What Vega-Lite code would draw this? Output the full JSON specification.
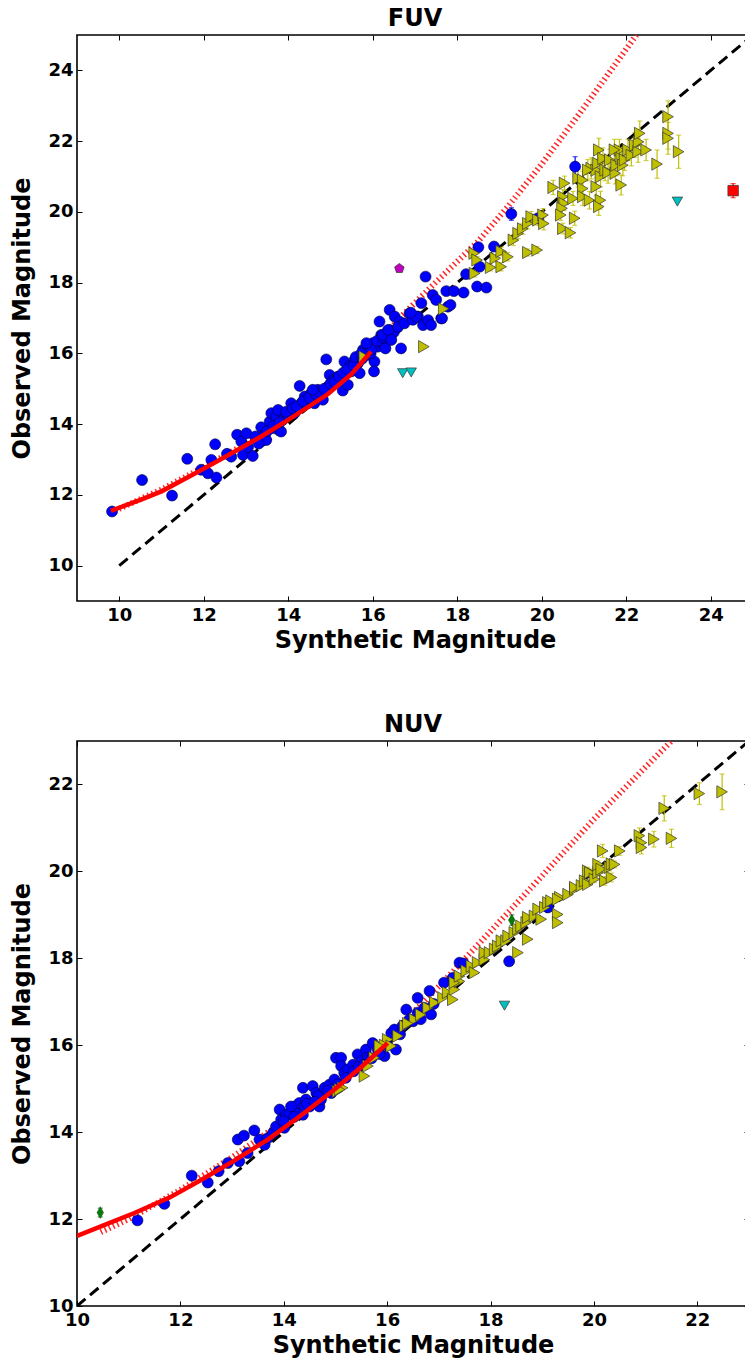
{
"$schema":"https://vega.github.io/schema/vega-lite/v6.json",
"padding":{"left":10,"top":5,"right":0,"bottom":0},
"background":"white",
"spacing":58,
"config":{
 "view":{"stroke":"#000","strokeWidth":1.6},
 "axis":{"labelFont":"DejaVu Sans","labelFontSize":18,"labelFontWeight":"bold","labelColor":"#000","titleFont":"DejaVu Sans","titleFontSize":24,"titleFontWeight":"bold","titleColor":"#000","tickColor":"#000","tickWidth":1,"domain":false,"grid":false,"labelFlush":false,"labelOverlap":false,"labelBound":false},
 "title":{"font":"DejaVu Sans","fontSize":24,"fontWeight":"bold","color":"#000","anchor":"middle","offset":4}
},
"datasets":{
"lines":[
{"panel":"FUV","line":"ident","o":1,"x":10,"y":10},{"panel":"FUV","line":"ident","o":2,"x":25,"y":25},
{"panel":"FUV","line":"fit","o":1,"x":9.8,"y":11.55},{"panel":"FUV","line":"fit","o":2,"x":10.5,"y":11.86},{"panel":"FUV","line":"fit","o":3,"x":11,"y":12.1},{"panel":"FUV","line":"fit","o":4,"x":11.78,"y":12.6},{"panel":"FUV","line":"fit","o":5,"x":12.5,"y":13.07},{"panel":"FUV","line":"fit","o":6,"x":13.36,"y":13.65},{"panel":"FUV","line":"fit","o":7,"x":14,"y":14.12},{"panel":"FUV","line":"fit","o":8,"x":14.94,"y":14.85},{"panel":"FUV","line":"fit","o":9,"x":15.5,"y":15.42},{"panel":"FUV","line":"fit","o":10,"x":15.96,"y":16.05},
{"panel":"FUV","line":"poly","o":1,"x":9.8,"y":11.5},{"panel":"FUV","line":"poly","o":2,"x":10.5,"y":11.88},{"panel":"FUV","line":"poly","o":3,"x":11,"y":12.15},{"panel":"FUV","line":"poly","o":4,"x":12,"y":12.78},{"panel":"FUV","line":"poly","o":5,"x":13,"y":13.45},{"panel":"FUV","line":"poly","o":6,"x":14,"y":14.22},{"panel":"FUV","line":"poly","o":7,"x":15,"y":15.12},{"panel":"FUV","line":"poly","o":8,"x":16,"y":16.12},{"panel":"FUV","line":"poly","o":9,"x":16.68,"y":17.05},{"panel":"FUV","line":"poly","o":10,"x":17.5,"y":18.02},{"panel":"FUV","line":"poly","o":11,"x":18.49,"y":19.16},{"panel":"FUV","line":"poly","o":12,"x":19.2,"y":20.15},{"panel":"FUV","line":"poly","o":13,"x":20,"y":21.35},{"panel":"FUV","line":"poly","o":14,"x":21,"y":22.95},{"panel":"FUV","line":"poly","o":15,"x":22.24,"y":25},
{"panel":"NUV","line":"ident","o":1,"x":10,"y":10},{"panel":"NUV","line":"ident","o":2,"x":23,"y":23},
{"panel":"NUV","line":"fit","o":1,"x":10,"y":11.61},{"panel":"NUV","line":"fit","o":2,"x":10.5,"y":11.85},{"panel":"NUV","line":"fit","o":3,"x":11.11,"y":12.14},{"panel":"NUV","line":"fit","o":4,"x":11.8,"y":12.5},{"panel":"NUV","line":"fit","o":5,"x":12.4,"y":12.9},{"panel":"NUV","line":"fit","o":6,"x":13.05,"y":13.35},{"panel":"NUV","line":"fit","o":7,"x":13.69,"y":13.83},{"panel":"NUV","line":"fit","o":8,"x":14.35,"y":14.4},{"panel":"NUV","line":"fit","o":9,"x":14.98,"y":14.98},{"panel":"NUV","line":"fit","o":10,"x":15.5,"y":15.5},{"panel":"NUV","line":"fit","o":11,"x":16.01,"y":16.05},
{"panel":"NUV","line":"poly","o":1,"x":10.46,"y":11.7},{"panel":"NUV","line":"poly","o":2,"x":11,"y":12.0},{"panel":"NUV","line":"poly","o":3,"x":12,"y":12.67},{"panel":"NUV","line":"poly","o":4,"x":13,"y":13.42},{"panel":"NUV","line":"poly","o":5,"x":14,"y":14.25},{"panel":"NUV","line":"poly","o":6,"x":15,"y":15.15},{"panel":"NUV","line":"poly","o":7,"x":16,"y":16.15},{"panel":"NUV","line":"poly","o":8,"x":17,"y":17.35},{"panel":"NUV","line":"poly","o":9,"x":18,"y":18.62},{"panel":"NUV","line":"poly","o":10,"x":19,"y":19.9},{"panel":"NUV","line":"poly","o":11,"x":20,"y":21.2},{"panel":"NUV","line":"poly","o":12,"x":21,"y":22.4},{"panel":"NUV","line":"poly","o":13,"x":21.5,"y":23.0}
],
"pts":[
{"panel":"FUV","type":"blue","x":9.83,"y":11.53},{"panel":"FUV","type":"blue","x":10.54,"y":12.42},{"panel":"FUV","type":"blue","x":11.25,"y":11.98},{"panel":"FUV","type":"blue","x":11.61,"y":13.02},{"panel":"FUV","type":"blue","x":11.94,"y":12.71},{"panel":"FUV","type":"blue","x":12.1,"y":12.61},{"panel":"FUV","type":"blue","x":12.18,"y":12.99},{"panel":"FUV","type":"blue","x":12.27,"y":13.43},{"panel":"FUV","type":"blue","x":12.3,"y":12.49},{"panel":"FUV","type":"blue","x":12.55,"y":13.16},{"panel":"FUV","type":"blue","x":12.65,"y":13.08},{"panel":"FUV","type":"blue","x":12.79,"y":13.7},{"panel":"FUV","type":"blue","x":12.89,"y":13.51},{"panel":"FUV","type":"blue","x":12.93,"y":13.13},{"panel":"FUV","type":"blue","x":13.01,"y":13.74},{"panel":"FUV","type":"blue","x":13.16,"y":13.1},{"panel":"FUV","type":"blue","x":13.22,"y":13.65},{"panel":"FUV","type":"blue","x":13.36,"y":13.91},{"panel":"FUV","type":"blue","x":13.44,"y":13.7},{"panel":"FUV","type":"blue","x":13.48,"y":13.55},{"panel":"FUV","type":"blue","x":13.56,"y":14.07},{"panel":"FUV","type":"blue","x":13.6,"y":14.31},{"panel":"FUV","type":"blue","x":13.68,"y":13.88},{"panel":"FUV","type":"blue","x":13.72,"y":14.21},{"panel":"FUV","type":"blue","x":13.76,"y":14.4},{"panel":"FUV","type":"blue","x":13.83,"y":13.79},{"panel":"FUV","type":"blue","x":13.87,"y":14.12},{"panel":"FUV","type":"blue","x":13.99,"y":14.26},{"panel":"FUV","type":"blue","x":14.07,"y":14.59},{"panel":"FUV","type":"blue","x":14.15,"y":14.31},{"panel":"FUV","type":"blue","x":14.27,"y":15.08},{"panel":"FUV","type":"blue","x":14.31,"y":14.59},{"panel":"FUV","type":"blue","x":14.39,"y":14.78},{"panel":"FUV","type":"blue","x":14.46,"y":14.59},{"panel":"FUV","type":"blue","x":14.54,"y":14.87},{"panel":"FUV","type":"blue","x":14.62,"y":14.59},{"panel":"FUV","type":"blue","x":14.7,"y":14.97},{"panel":"FUV","type":"blue","x":14.82,"y":14.69},{"panel":"FUV","type":"blue","x":14.9,"y":15.83},{"panel":"FUV","type":"blue","x":14.94,"y":15.06},{"panel":"FUV","type":"blue","x":14.98,"y":15.39},{"panel":"FUV","type":"blue","x":15.06,"y":15.25},{"panel":"FUV","type":"blue","x":15.18,"y":15.34},{"panel":"FUV","type":"blue","x":15.29,"y":14.95},{"panel":"FUV","type":"blue","x":15.33,"y":15.77},{"panel":"FUV","type":"blue","x":15.41,"y":15.11},{"panel":"FUV","type":"blue","x":15.45,"y":15.63},{"panel":"FUV","type":"blue","x":15.49,"y":15.49},{"panel":"FUV","type":"blue","x":15.57,"y":15.81},{"panel":"FUV","type":"blue","x":15.65,"y":15.72},{"panel":"FUV","type":"blue","x":15.69,"y":15.44},{"panel":"FUV","type":"blue","x":15.77,"y":16.1},{"panel":"FUV","type":"blue","x":15.89,"y":15.96},{"panel":"FUV","type":"blue","x":15.92,"y":16.19},{"panel":"FUV","type":"blue","x":16.0,"y":16.29},{"panel":"FUV","type":"blue","x":16.04,"y":15.77},{"panel":"FUV","type":"blue","x":16.03,"y":15.49},{"panel":"FUV","type":"blue","x":16.12,"y":16.19},{"panel":"FUV","type":"blue","x":16.16,"y":16.9},{"panel":"FUV","type":"blue","x":16.2,"y":16.52},{"panel":"FUV","type":"blue","x":16.28,"y":16.19},{"panel":"FUV","type":"blue","x":16.4,"y":17.23},{"panel":"FUV","type":"blue","x":16.4,"y":16.66},{"panel":"FUV","type":"blue","x":16.52,"y":17.04},{"panel":"FUV","type":"blue","x":16.63,"y":16.9},{"panel":"FUV","type":"blue","x":16.67,"y":16.14},{"panel":"FUV","type":"blue","x":16.87,"y":17.13},{"panel":"FUV","type":"blue","x":17.07,"y":17.04},{"panel":"FUV","type":"blue","x":17.19,"y":16.8},{"panel":"FUV","type":"blue","x":17.31,"y":16.94},{"panel":"FUV","type":"blue","x":17.38,"y":16.8},{"panel":"FUV","type":"blue","x":17.62,"y":16.99},{"panel":"FUV","type":"blue","x":17.78,"y":17.32},
{"panel":"FUV","type":"blue","x":13.05,"y":13.35},{"panel":"FUV","type":"blue","x":13.3,"y":13.45},{"panel":"FUV","type":"blue","x":13.5,"y":13.8},{"panel":"FUV","type":"blue","x":13.65,"y":13.95},{"panel":"FUV","type":"blue","x":13.8,"y":14.05},{"panel":"FUV","type":"blue","x":13.95,"y":14.35},{"panel":"FUV","type":"blue","x":14.1,"y":14.45},{"panel":"FUV","type":"blue","x":14.2,"y":14.5},{"panel":"FUV","type":"blue","x":14.35,"y":14.65},{"panel":"FUV","type":"blue","x":14.5,"y":14.75},{"panel":"FUV","type":"blue","x":14.65,"y":14.85},{"panel":"FUV","type":"blue","x":14.75,"y":14.9},{"panel":"FUV","type":"blue","x":14.85,"y":15.0},{"panel":"FUV","type":"blue","x":15.0,"y":15.15},{"panel":"FUV","type":"blue","x":15.1,"y":15.2},{"panel":"FUV","type":"blue","x":15.2,"y":15.35},{"panel":"FUV","type":"blue","x":15.3,"y":15.45},{"panel":"FUV","type":"blue","x":15.4,"y":15.55},{"panel":"FUV","type":"blue","x":15.55,"y":15.65},{"panel":"FUV","type":"blue","x":15.6,"y":15.9},{"panel":"FUV","type":"blue","x":15.75,"y":15.85},{"panel":"FUV","type":"blue","x":15.85,"y":16.05},{"panel":"FUV","type":"blue","x":15.95,"y":16.0},{"panel":"FUV","type":"blue","x":16.1,"y":16.35},{"panel":"FUV","type":"blue","x":16.25,"y":16.45},{"panel":"FUV","type":"blue","x":16.35,"y":16.55},{"panel":"FUV","type":"blue","x":16.5,"y":16.6},{"panel":"FUV","type":"blue","x":16.6,"y":16.75},{"panel":"FUV","type":"blue","x":16.75,"y":16.85},{"panel":"FUV","type":"blue","x":16.95,"y":16.95},
{"panel":"FUV","type":"blue","x":17.25,"y":18.17},{"panel":"FUV","type":"blue","x":17.42,"y":17.65},{"panel":"FUV","type":"blue","x":17.5,"y":17.51},{"panel":"FUV","type":"blue","x":17.74,"y":17.76},{"panel":"FUV","type":"blue","x":17.92,"y":17.76},{"panel":"FUV","type":"blue","x":18.15,"y":17.72},{"panel":"FUV","type":"blue","x":18.21,"y":18.24},{"panel":"FUV","type":"blue","x":18.47,"y":17.89},{"panel":"FUV","type":"blue","x":17.84,"y":17.37},{"panel":"FUV","type":"blue","x":17.64,"y":16.99},{"panel":"FUV","type":"blue","x":17.15,"y":17.42},{"panel":"FUV","type":"blue","x":17.03,"y":17.04},{"panel":"FUV","type":"blue","x":16.9,"y":17.15},{"panel":"FUV","type":"blue","x":16.24,"y":16.52},{"panel":"FUV","type":"blue","x":16.36,"y":16.66},{"panel":"FUV","type":"blue","x":16.3,"y":16.14},{"panel":"FUV","type":"blue","x":16.44,"y":16.38},{"panel":"FUV","type":"blue","x":15.96,"y":16.1},{"panel":"FUV","type":"blue","x":15.85,"y":16.29},{"panel":"FUV","type":"blue","x":15.73,"y":16.0},{"panel":"FUV","type":"blue","x":14.58,"y":14.97},{"panel":"FUV","type":"blue","x":18.5,"y":19.0},{"panel":"FUV","type":"blue","x":18.87,"y":19.02},{"panel":"FUV","type":"blue","x":18.53,"y":18.45},{"panel":"FUV","type":"blue","x":18.69,"y":17.86},{"panel":"FUV","type":"blue","x":19.91,"y":19.82},{"panel":"FUV","type":"blue","x":19.28,"y":19.94,"err":0.18},{"panel":"FUV","type":"blue","x":20.79,"y":21.28,"err":0.28},
{"panel":"FUV","type":"yellow","x":15.8,"y":15.9},{"panel":"FUV","type":"yellow","x":17.21,"y":16.19},{"panel":"FUV","type":"yellow","x":17.68,"y":17.26},
{"panel":"FUV","type":"yellow","x":18.4,"y":18.83,"err":0.1},{"panel":"FUV","type":"yellow","x":18.47,"y":18.64,"err":0.1},{"panel":"FUV","type":"yellow","x":18.41,"y":18.26,"err":0.1},{"panel":"FUV","type":"yellow","x":18.79,"y":18.43,"err":0.1},{"panel":"FUV","type":"yellow","x":18.9,"y":18.69,"err":0.1},{"panel":"FUV","type":"yellow","x":19.04,"y":18.88,"err":0.12},{"panel":"FUV","type":"yellow","x":19.04,"y":18.45,"err":0.12},{"panel":"FUV","type":"yellow","x":19.2,"y":18.73,"err":0.12},{"panel":"FUV","type":"yellow","x":19.33,"y":19.2,"err":0.15},{"panel":"FUV","type":"yellow","x":19.44,"y":19.39,"err":0.15},{"panel":"FUV","type":"yellow","x":19.55,"y":19.52,"err":0.15},{"panel":"FUV","type":"yellow","x":19.67,"y":19.67,"err":0.15},{"panel":"FUV","type":"yellow","x":19.75,"y":19.86,"err":0.15},{"panel":"FUV","type":"yellow","x":19.91,"y":19.77,"err":0.15},{"panel":"FUV","type":"yellow","x":20.03,"y":19.91,"err":0.18},{"panel":"FUV","type":"yellow","x":20.05,"y":19.67,"err":0.18},{"panel":"FUV","type":"yellow","x":19.67,"y":18.85,"err":0.1},{"panel":"FUV","type":"yellow","x":19.89,"y":18.92,"err":0.1},{"panel":"FUV","type":"yellow","x":20.27,"y":20.69,"err":0.2},{"panel":"FUV","type":"yellow","x":20.54,"y":20.81,"err":0.2},{"panel":"FUV","type":"yellow","x":20.5,"y":20.43,"err":0.2},{"panel":"FUV","type":"yellow","x":20.53,"y":20.24,"err":0.2},{"panel":"FUV","type":"yellow","x":20.48,"y":20.1,"err":0.2},{"panel":"FUV","type":"yellow","x":20.45,"y":19.91,"err":0.15},{"panel":"FUV","type":"yellow","x":20.5,"y":19.53,"err":0.15},{"panel":"FUV","type":"yellow","x":20.68,"y":19.41,"err":0.15},{"panel":"FUV","type":"yellow","x":20.78,"y":19.82,"err":0.2},{"panel":"FUV","type":"yellow","x":20.74,"y":20.38,"err":0.2},{"panel":"FUV","type":"yellow","x":20.86,"y":20.95,"err":0.25},{"panel":"FUV","type":"yellow","x":20.97,"y":20.9,"err":0.25},{"panel":"FUV","type":"yellow","x":20.97,"y":20.66,"err":0.25},{"panel":"FUV","type":"yellow","x":20.97,"y":20.43,"err":0.25},{"panel":"FUV","type":"yellow","x":21.13,"y":20.33,"err":0.25},{"panel":"FUV","type":"yellow","x":21.17,"y":21.23,"err":0.3},{"panel":"FUV","type":"yellow","x":21.29,"y":21.18,"err":0.3},{"panel":"FUV","type":"yellow","x":21.35,"y":21.75,"err":0.33},{"panel":"FUV","type":"yellow","x":21.39,"y":20.33,"err":0.25},{"panel":"FUV","type":"yellow","x":21.35,"y":20.15,"err":0.25},{"panel":"FUV","type":"yellow","x":21.33,"y":21.37,"err":0.3},{"panel":"FUV","type":"yellow","x":21.39,"y":20.99,"err":0.28},{"panel":"FUV","type":"yellow","x":21.45,"y":21.51,"err":0.3},{"panel":"FUV","type":"yellow","x":21.5,"y":21.18,"err":0.3},{"panel":"FUV","type":"yellow","x":21.57,"y":21.11,"err":0.3},{"panel":"FUV","type":"yellow","x":21.61,"y":21.47,"err":0.3},{"panel":"FUV","type":"yellow","x":21.74,"y":21.09,"err":0.3},{"panel":"FUV","type":"yellow","x":21.76,"y":21.32,"err":0.3},{"panel":"FUV","type":"yellow","x":21.84,"y":21.75,"err":0.3},{"panel":"FUV","type":"yellow","x":21.88,"y":20.76,"err":0.28},{"panel":"FUV","type":"yellow","x":21.88,"y":21.51,"err":0.3},{"panel":"FUV","type":"yellow","x":21.92,"y":21.32,"err":0.3},{"panel":"FUV","type":"yellow","x":21.96,"y":21.47,"err":0.3},{"panel":"FUV","type":"yellow","x":22.04,"y":21.75,"err":0.3},{"panel":"FUV","type":"yellow","x":22.12,"y":21.6,"err":0.3},{"panel":"FUV","type":"yellow","x":22.2,"y":21.89,"err":0.35},{"panel":"FUV","type":"yellow","x":22.28,"y":21.7,"err":0.3},{"panel":"FUV","type":"yellow","x":22.29,"y":21.98,"err":0.35},{"panel":"FUV","type":"yellow","x":22.32,"y":22.22,"err":0.35},{"panel":"FUV","type":"yellow","x":22.47,"y":21.75,"err":0.3},{"panel":"FUV","type":"yellow","x":22.73,"y":21.35,"err":0.4},{"panel":"FUV","type":"yellow","x":22.99,"y":22.69,"err":0.45},{"panel":"FUV","type":"yellow","x":22.99,"y":22.22,"err":0.45},{"panel":"FUV","type":"yellow","x":22.99,"y":22.08,"err":0.45},{"panel":"FUV","type":"yellow","x":23.24,"y":21.7,"err":0.47},{"panel":"FUV","type":"yellow","x":21.72,"y":21.75,"err":0.3},{"panel":"FUV","type":"yellow","x":21.29,"y":20.71,"err":0.25},{"panel":"FUV","type":"yellow","x":21.09,"y":21.18,"err":0.3},
{"panel":"FUV","type":"cyan","x":16.71,"y":15.44},{"panel":"FUV","type":"cyan","x":16.91,"y":15.46},{"panel":"FUV","type":"cyan","x":23.21,"y":20.29},
{"panel":"FUV","type":"magenta","x":16.63,"y":18.4},
{"panel":"FUV","type":"red","x":24.53,"y":20.6,"err":0.2},
{"panel":"NUV","type":"blue","x":11.17,"y":11.97},{"panel":"NUV","type":"blue","x":11.69,"y":12.35},{"panel":"NUV","type":"blue","x":12.22,"y":13.0},{"panel":"NUV","type":"blue","x":12.53,"y":12.84},{"panel":"NUV","type":"blue","x":12.74,"y":13.1},{"panel":"NUV","type":"blue","x":12.92,"y":13.29},{"panel":"NUV","type":"blue","x":13.11,"y":13.83},{"panel":"NUV","type":"blue","x":13.14,"y":13.33},{"panel":"NUV","type":"blue","x":13.23,"y":13.92},{"panel":"NUV","type":"blue","x":13.3,"y":13.52},{"panel":"NUV","type":"blue","x":13.43,"y":14.04},{"panel":"NUV","type":"blue","x":13.53,"y":13.83},{"panel":"NUV","type":"blue","x":13.63,"y":13.71},{"panel":"NUV","type":"blue","x":13.69,"y":13.86},{"panel":"NUV","type":"blue","x":13.79,"y":13.98},{"panel":"NUV","type":"blue","x":13.85,"y":14.13},{"panel":"NUV","type":"blue","x":13.92,"y":14.52},{"panel":"NUV","type":"blue","x":13.95,"y":14.29},{"panel":"NUV","type":"blue","x":14.01,"y":14.1},{"panel":"NUV","type":"blue","x":14.05,"y":14.4},{"panel":"NUV","type":"blue","x":14.11,"y":14.44},{"panel":"NUV","type":"blue","x":14.21,"y":14.59},{"panel":"NUV","type":"blue","x":14.27,"y":14.44},{"panel":"NUV","type":"blue","x":14.3,"y":14.67},{"panel":"NUV","type":"blue","x":14.37,"y":15.02},{"panel":"NUV","type":"blue","x":14.37,"y":14.4},{"panel":"NUV","type":"blue","x":14.43,"y":14.75},{"panel":"NUV","type":"blue","x":14.5,"y":14.59},{"panel":"NUV","type":"blue","x":14.56,"y":15.06},{"panel":"NUV","type":"blue","x":14.63,"y":14.9},{"panel":"NUV","type":"blue","x":14.69,"y":14.59},{"panel":"NUV","type":"blue","x":14.72,"y":14.75},{"panel":"NUV","type":"blue","x":14.79,"y":15.02},{"panel":"NUV","type":"blue","x":14.88,"y":15.09},{"panel":"NUV","type":"blue","x":14.98,"y":15.21},{"panel":"NUV","type":"blue","x":15.01,"y":15.71},{"panel":"NUV","type":"blue","x":15.11,"y":15.71},{"panel":"NUV","type":"blue","x":15.11,"y":15.52},{"panel":"NUV","type":"blue","x":15.17,"y":15.36},{"panel":"NUV","type":"blue","x":15.24,"y":15.44},{"panel":"NUV","type":"blue","x":15.34,"y":15.55},{"panel":"NUV","type":"blue","x":15.43,"y":15.79},{"panel":"NUV","type":"blue","x":15.5,"y":15.63},{"panel":"NUV","type":"blue","x":15.59,"y":15.9},{"panel":"NUV","type":"blue","x":15.63,"y":15.71},{"panel":"NUV","type":"blue","x":15.72,"y":16.05},{"panel":"NUV","type":"blue","x":15.82,"y":15.9},{"panel":"NUV","type":"blue","x":15.95,"y":15.75},{"panel":"NUV","type":"blue","x":16.08,"y":16.28},{"panel":"NUV","type":"blue","x":16.17,"y":15.9},{"panel":"NUV","type":"blue","x":16.14,"y":16.36},{"panel":"NUV","type":"blue","x":16.37,"y":16.82},{"panel":"NUV","type":"blue","x":16.43,"y":16.59},{"panel":"NUV","type":"blue","x":16.59,"y":16.75},{"panel":"NUV","type":"blue","x":16.59,"y":17.09},{"panel":"NUV","type":"blue","x":16.72,"y":16.86},{"panel":"NUV","type":"blue","x":16.82,"y":17.25},{"panel":"NUV","type":"blue","x":16.85,"y":16.71},{"panel":"NUV","type":"blue","x":17.1,"y":17.44},{"panel":"NUV","type":"blue","x":17.27,"y":17.55},{"panel":"NUV","type":"blue","x":17.4,"y":17.9},{"panel":"NUV","type":"blue","x":17.48,"y":17.88},{"panel":"NUV","type":"blue","x":18.36,"y":17.93},{"panel":"NUV","type":"blue","x":14.66,"y":14.83},{"panel":"NUV","type":"blue","x":14.92,"y":14.9},{"panel":"NUV","type":"blue","x":14.14,"y":14.59},{"panel":"NUV","type":"blue","x":14.4,"y":14.59},{"panel":"NUV","type":"blue","x":19.11,"y":19.17},
{"panel":"NUV","type":"blue","x":14.0,"y":14.25},{"panel":"NUV","type":"blue","x":14.2,"y":14.35},{"panel":"NUV","type":"blue","x":14.45,"y":14.65},{"panel":"NUV","type":"blue","x":14.6,"y":14.7},{"panel":"NUV","type":"blue","x":14.85,"y":14.95},{"panel":"NUV","type":"blue","x":15.05,"y":15.1},{"panel":"NUV","type":"blue","x":15.2,"y":15.25},{"panel":"NUV","type":"blue","x":15.35,"y":15.4},{"panel":"NUV","type":"blue","x":15.45,"y":15.5},{"panel":"NUV","type":"blue","x":15.55,"y":15.55},{"panel":"NUV","type":"blue","x":15.7,"y":15.7},{"panel":"NUV","type":"blue","x":15.85,"y":15.8},{"panel":"NUV","type":"blue","x":16.0,"y":16.0},{"panel":"NUV","type":"blue","x":16.25,"y":16.25},{"panel":"NUV","type":"blue","x":16.3,"y":16.45},{"panel":"NUV","type":"blue","x":16.5,"y":16.55},{"panel":"NUV","type":"blue","x":16.65,"y":16.6},{"panel":"NUV","type":"blue","x":16.9,"y":16.95},
{"panel":"NUV","type":"yellow","x":15.04,"y":14.94},{"panel":"NUV","type":"yellow","x":15.14,"y":15.02},{"panel":"NUV","type":"yellow","x":15.56,"y":15.29},{"panel":"NUV","type":"yellow","x":15.63,"y":15.52},{"panel":"NUV","type":"yellow","x":15.75,"y":15.71},{"panel":"NUV","type":"yellow","x":15.88,"y":15.98},{"panel":"NUV","type":"yellow","x":16.01,"y":16.13},{"panel":"NUV","type":"yellow","x":16.21,"y":16.21},{"panel":"NUV","type":"yellow","x":15.95,"y":16.0},{"panel":"NUV","type":"yellow","x":16.34,"y":16.44},{"panel":"NUV","type":"yellow","x":16.53,"y":16.59},{"panel":"NUV","type":"yellow","x":16.79,"y":16.86},{"panel":"NUV","type":"yellow","x":16.92,"y":16.98},{"panel":"NUV","type":"yellow","x":17.08,"y":17.09},{"panel":"NUV","type":"yellow","x":17.17,"y":17.21},{"panel":"NUV","type":"yellow","x":17.3,"y":17.28},{"panel":"NUV","type":"yellow","x":17.4,"y":17.47},{"panel":"NUV","type":"yellow","x":17.27,"y":17.05},{"panel":"NUV","type":"yellow","x":15.85,"y":15.98},{"panel":"NUV","type":"yellow","x":15.08,"y":14.98},{"panel":"NUV","type":"yellow","x":16.08,"y":15.98},{"panel":"NUV","type":"yellow","x":16.4,"y":16.5},{"panel":"NUV","type":"yellow","x":16.65,"y":16.7},
{"panel":"NUV","type":"yellow","x":17.3,"y":17.44},{"panel":"NUV","type":"yellow","x":17.4,"y":17.59},{"panel":"NUV","type":"yellow","x":17.53,"y":17.71},{"panel":"NUV","type":"yellow","x":17.63,"y":17.82},{"panel":"NUV","type":"yellow","x":17.69,"y":17.67},{"panel":"NUV","type":"yellow","x":17.75,"y":17.9},{"panel":"NUV","type":"yellow","x":17.88,"y":17.97},{"panel":"NUV","type":"yellow","x":17.88,"y":18.13},{"panel":"NUV","type":"yellow","x":17.98,"y":18.13},{"panel":"NUV","type":"yellow","x":18.08,"y":18.21},{"panel":"NUV","type":"yellow","x":18.14,"y":18.28},{"panel":"NUV","type":"yellow","x":18.21,"y":18.4},{"panel":"NUV","type":"yellow","x":18.3,"y":18.4},{"panel":"NUV","type":"yellow","x":18.34,"y":18.51},{"panel":"NUV","type":"yellow","x":18.46,"y":18.59},{"panel":"NUV","type":"yellow","x":18.53,"y":18.67},{"panel":"NUV","type":"yellow","x":18.53,"y":18.13},{"panel":"NUV","type":"yellow","x":18.72,"y":18.44},{"panel":"NUV","type":"yellow","x":18.59,"y":18.74},{"panel":"NUV","type":"yellow","x":18.69,"y":18.82},{"panel":"NUV","type":"yellow","x":18.72,"y":18.94},{"panel":"NUV","type":"yellow","x":18.85,"y":18.97},{"panel":"NUV","type":"yellow","x":18.92,"y":19.13},{"panel":"NUV","type":"yellow","x":18.98,"y":18.9},{"panel":"NUV","type":"yellow","x":19.05,"y":19.17},{"panel":"NUV","type":"yellow","x":19.11,"y":19.28},{"panel":"NUV","type":"yellow","x":19.17,"y":19.32},{"panel":"NUV","type":"yellow","x":19.3,"y":19.01},{"panel":"NUV","type":"yellow","x":19.3,"y":18.82},{"panel":"NUV","type":"yellow","x":19.34,"y":19.4},{"panel":"NUV","type":"yellow","x":19.3,"y":19.36},{"panel":"NUV","type":"yellow","x":19.5,"y":19.47},{"panel":"NUV","type":"yellow","x":19.63,"y":19.59},{"panel":"NUV","type":"yellow","x":19.63,"y":19.63},{"panel":"NUV","type":"yellow","x":19.76,"y":19.67},{"panel":"NUV","type":"yellow","x":19.82,"y":19.78},{"panel":"NUV","type":"yellow","x":19.88,"y":19.7},{"panel":"NUV","type":"yellow","x":19.88,"y":20.01,"err":0.08},{"panel":"NUV","type":"yellow","x":19.92,"y":19.97,"err":0.08},{"panel":"NUV","type":"yellow","x":20.01,"y":19.82,"err":0.08},{"panel":"NUV","type":"yellow","x":20.08,"y":19.97,"err":0.08},{"panel":"NUV","type":"yellow","x":20.08,"y":20.16,"err":0.08},{"panel":"NUV","type":"yellow","x":20.14,"y":20.05,"err":0.08},{"panel":"NUV","type":"yellow","x":20.21,"y":19.78,"err":0.1},{"panel":"NUV","type":"yellow","x":20.3,"y":20.09,"err":0.08},{"panel":"NUV","type":"yellow","x":20.34,"y":19.86,"err":0.1},{"panel":"NUV","type":"yellow","x":20.34,"y":20.17,"err":0.1},{"panel":"NUV","type":"yellow","x":20.4,"y":20.16,"err":0.08},{"panel":"NUV","type":"yellow","x":20.17,"y":20.47,"err":0.15},{"panel":"NUV","type":"yellow","x":20.5,"y":20.47,"err":0.1},{"panel":"NUV","type":"yellow","x":20.88,"y":20.82,"err":0.18},{"panel":"NUV","type":"yellow","x":20.92,"y":20.66,"err":0.18},{"panel":"NUV","type":"yellow","x":20.92,"y":20.55,"err":0.15},{"panel":"NUV","type":"yellow","x":21.16,"y":20.74,"err":0.18},{"panel":"NUV","type":"yellow","x":21.5,"y":20.76,"err":0.21},{"panel":"NUV","type":"yellow","x":21.36,"y":21.45,"err":0.29},{"panel":"NUV","type":"yellow","x":22.04,"y":21.79,"err":0.25},{"panel":"NUV","type":"yellow","x":22.48,"y":21.83,"err":0.41},
{"panel":"NUV","type":"cyan","x":18.27,"y":16.91},
{"panel":"NUV","type":"green","x":10.45,"y":12.15,"err":0.1},{"panel":"NUV","type":"green","x":18.41,"y":18.88,"err":0.12}
]},
"vconcat":[
{
 "width":676,"height":566,
 "title":{"text":"FUV"},
 "resolve":{"axis":{"x":"independent","y":"independent"}},
 "layer":[
  {"data":{"name":"lines"},"transform":[{"filter":"datum.panel=='FUV' && datum.line=='ident'"}],
   "mark":{"type":"line","color":"#000","strokeWidth":3,"strokeDash":[11,6],"clip":true},
   "encoding":{"order":{"field":"o","type":"quantitative"},
    "x":{"field":"x","type":"quantitative","scale":{"domain":[9,25],"nice":false,"zero":false},"axis":{"orient":"bottom","values":[10,12,14,16,18,20,22,24],"title":"Synthetic Magnitude","tickSize":-5,"labelPadding":10,"titlePadding":4}},
    "y":{"field":"y","type":"quantitative","scale":{"domain":[9,25],"nice":false,"zero":false},"axis":{"orient":"left","values":[10,12,14,16,18,20,22,24],"title":"Observed Magnitude","tickSize":-5,"labelPadding":9,"titlePadding":13}}}},
  {"data":{"name":"pts"},"transform":[{"filter":"datum.panel=='FUV' && isValid(datum.err)"}],
   "mark":{"type":"errorbar","ticks":true,"thickness":1.2},
   "encoding":{"x":{"field":"x","type":"quantitative","scale":{"domain":[9,25],"nice":false,"zero":false},"axis":null},
    "y":{"field":"y","type":"quantitative","scale":{"domain":[9,25],"nice":false,"zero":false},"axis":null,"title":null},
    "yError":{"field":"err"},
    "color":{"field":"type","type":"nominal","legend":null,"scale":{"domain":["blue","yellow","cyan","magenta","red","green"],"range":["#0000ff","#bfbf00","#00bfbf","#bf00bf","#ff0000","#008000"]}}}},
  {"data":{"name":"lines"},"transform":[{"filter":"datum.panel=='FUV' && datum.line=='poly'"}],
   "mark":{"type":"line","color":"#ff1a1a","opacity":0.95,"strokeWidth":6,"strokeDash":[1.5,3],"strokeCap":"butt","clip":true},
   "encoding":{"order":{"field":"o","type":"quantitative"},"x":{"field":"x","type":"quantitative","scale":{"domain":[9,25],"nice":false,"zero":false},"axis":null},"y":{"field":"y","type":"quantitative","scale":{"domain":[9,25],"nice":false,"zero":false},"axis":null}}},
  {"data":{"name":"pts"},"transform":[{"filter":"datum.panel=='FUV' && datum.type=='blue'"}],
   "mark":{"type":"point","shape":"circle","filled":true,"fill":"#0000ff","fillOpacity":1,"stroke":"#000033","strokeWidth":0.6,"opacity":1,"size":120},
   "encoding":{"x":{"field":"x","type":"quantitative","scale":{"domain":[9,25],"nice":false,"zero":false},"axis":null},"y":{"field":"y","type":"quantitative","scale":{"domain":[9,25],"nice":false,"zero":false},"axis":null}}},
  {"data":{"name":"pts"},"transform":[{"filter":"datum.panel=='FUV' && datum.type=='yellow'"}],
   "mark":{"type":"point","shape":"triangle-right","filled":true,"fill":"#bfbf00","fillOpacity":1,"stroke":"#333","strokeWidth":0.7,"opacity":1,"size":150},
   "encoding":{"x":{"field":"x","type":"quantitative","scale":{"domain":[9,25],"nice":false,"zero":false},"axis":null},"y":{"field":"y","type":"quantitative","scale":{"domain":[9,25],"nice":false,"zero":false},"axis":null}}},
  {"data":{"name":"pts"},"transform":[{"filter":"datum.panel=='FUV' && datum.type=='cyan'"}],
   "mark":{"type":"point","shape":"triangle-down","filled":true,"fill":"#00bfbf","fillOpacity":1,"stroke":"#333","strokeWidth":0.7,"opacity":1,"size":110},
   "encoding":{"x":{"field":"x","type":"quantitative","scale":{"domain":[9,25],"nice":false,"zero":false},"axis":null},"y":{"field":"y","type":"quantitative","scale":{"domain":[9,25],"nice":false,"zero":false},"axis":null}}},
  {"data":{"name":"pts"},"transform":[{"filter":"datum.panel=='FUV' && datum.type=='magenta'"}],
   "mark":{"type":"point","shape":"M0,-1L0.951,-0.309L0.588,0.809L-0.588,0.809L-0.951,-0.309Z","filled":true,"fill":"#bf00bf","fillOpacity":1,"stroke":"#333","strokeWidth":0.7,"opacity":1,"size":100},
   "encoding":{"x":{"field":"x","type":"quantitative","scale":{"domain":[9,25],"nice":false,"zero":false},"axis":null},"y":{"field":"y","type":"quantitative","scale":{"domain":[9,25],"nice":false,"zero":false},"axis":null}}},
  {"data":{"name":"pts"},"transform":[{"filter":"datum.panel=='FUV' && datum.type=='red'"}],
   "mark":{"type":"point","shape":"square","filled":true,"fill":"#ff0000","fillOpacity":1,"stroke":"#333","strokeWidth":0.7,"opacity":1,"size":110},
   "encoding":{"x":{"field":"x","type":"quantitative","scale":{"domain":[9,25],"nice":false,"zero":false},"axis":null},"y":{"field":"y","type":"quantitative","scale":{"domain":[9,25],"nice":false,"zero":false},"axis":null}}},
  {"data":{"name":"lines"},"transform":[{"filter":"datum.panel=='FUV' && datum.line=='fit'"}],
   "mark":{"type":"line","color":"#ff0000","strokeWidth":4.5,"clip":true},
   "encoding":{"order":{"field":"o","type":"quantitative"},
    "x":{"field":"x","type":"quantitative","scale":{"domain":[9,25],"nice":false,"zero":false},"axis":{"orient":"top","values":[10,12,14,16,18,20,22,24],"labels":false,"title":null,"tickSize":-5}},
    "y":{"field":"y","type":"quantitative","scale":{"domain":[9,25],"nice":false,"zero":false},"axis":{"orient":"right","values":[10,12,14,16,18,20,22,24],"labels":false,"title":null,"tickSize":-5}}}}
 ]
},
{
 "width":672,"height":565,
 "title":{"text":"NUV"},
 "resolve":{"axis":{"x":"independent","y":"independent"}},
 "layer":[
  {"data":{"name":"lines"},"transform":[{"filter":"datum.panel=='NUV' && datum.line=='ident'"}],
   "mark":{"type":"line","color":"#000","strokeWidth":3,"strokeDash":[11,6],"clip":true},
   "encoding":{"order":{"field":"o","type":"quantitative"},
    "x":{"field":"x","type":"quantitative","scale":{"domain":[10,23],"nice":false,"zero":false},"axis":{"orient":"bottom","values":[10,12,14,16,18,20,22],"title":"Synthetic Magnitude","tickSize":-5,"labelPadding":10,"titlePadding":4}},
    "y":{"field":"y","type":"quantitative","scale":{"domain":[10,23],"nice":false,"zero":false},"axis":{"orient":"left","values":[10,12,14,16,18,20,22],"title":"Observed Magnitude","tickSize":-5,"labelPadding":9,"titlePadding":13}}}},
  {"data":{"name":"pts"},"transform":[{"filter":"datum.panel=='NUV' && isValid(datum.err)"}],
   "mark":{"type":"errorbar","ticks":true,"thickness":1.2},
   "encoding":{"x":{"field":"x","type":"quantitative","scale":{"domain":[10,23],"nice":false,"zero":false},"axis":null},
    "y":{"field":"y","type":"quantitative","scale":{"domain":[10,23],"nice":false,"zero":false},"axis":null,"title":null},
    "yError":{"field":"err"},
    "color":{"field":"type","type":"nominal","legend":null,"scale":{"domain":["blue","yellow","cyan","magenta","red","green"],"range":["#0000ff","#bfbf00","#00bfbf","#bf00bf","#ff0000","#008000"]}}}},
  {"data":{"name":"lines"},"transform":[{"filter":"datum.panel=='NUV' && datum.line=='poly'"}],
   "mark":{"type":"line","color":"#ff1a1a","opacity":0.95,"strokeWidth":6,"strokeDash":[1.5,3],"strokeCap":"butt","clip":true},
   "encoding":{"order":{"field":"o","type":"quantitative"},"x":{"field":"x","type":"quantitative","scale":{"domain":[10,23],"nice":false,"zero":false},"axis":null},"y":{"field":"y","type":"quantitative","scale":{"domain":[10,23],"nice":false,"zero":false},"axis":null}}},
  {"data":{"name":"pts"},"transform":[{"filter":"datum.panel=='NUV' && datum.type=='blue'"}],
   "mark":{"type":"point","shape":"circle","filled":true,"fill":"#0000ff","fillOpacity":1,"stroke":"#000033","strokeWidth":0.6,"opacity":1,"size":120},
   "encoding":{"x":{"field":"x","type":"quantitative","scale":{"domain":[10,23],"nice":false,"zero":false},"axis":null},"y":{"field":"y","type":"quantitative","scale":{"domain":[10,23],"nice":false,"zero":false},"axis":null}}},
  {"data":{"name":"pts"},"transform":[{"filter":"datum.panel=='NUV' && datum.type=='yellow'"}],
   "mark":{"type":"point","shape":"triangle-right","filled":true,"fill":"#bfbf00","fillOpacity":1,"stroke":"#333","strokeWidth":0.7,"opacity":1,"size":150},
   "encoding":{"x":{"field":"x","type":"quantitative","scale":{"domain":[10,23],"nice":false,"zero":false},"axis":null},"y":{"field":"y","type":"quantitative","scale":{"domain":[10,23],"nice":false,"zero":false},"axis":null}}},
  {"data":{"name":"pts"},"transform":[{"filter":"datum.panel=='NUV' && datum.type=='cyan'"}],
   "mark":{"type":"point","shape":"triangle-down","filled":true,"fill":"#00bfbf","fillOpacity":1,"stroke":"#333","strokeWidth":0.7,"opacity":1,"size":110},
   "encoding":{"x":{"field":"x","type":"quantitative","scale":{"domain":[10,23],"nice":false,"zero":false},"axis":null},"y":{"field":"y","type":"quantitative","scale":{"domain":[10,23],"nice":false,"zero":false},"axis":null}}},
  {"data":{"name":"pts"},"transform":[{"filter":"datum.panel=='NUV' && datum.type=='green'"}],
   "mark":{"type":"point","shape":"M0,-1L0.55,0L0,1L-0.55,0Z","filled":true,"fill":"#008000","fillOpacity":1,"stroke":"#333","strokeWidth":0.5,"opacity":1,"size":140},
   "encoding":{"x":{"field":"x","type":"quantitative","scale":{"domain":[10,23],"nice":false,"zero":false},"axis":null},"y":{"field":"y","type":"quantitative","scale":{"domain":[10,23],"nice":false,"zero":false},"axis":null}}},
  {"data":{"name":"lines"},"transform":[{"filter":"datum.panel=='NUV' && datum.line=='fit'"}],
   "mark":{"type":"line","color":"#ff0000","strokeWidth":4.5,"clip":true},
   "encoding":{"order":{"field":"o","type":"quantitative"},
    "x":{"field":"x","type":"quantitative","scale":{"domain":[10,23],"nice":false,"zero":false},"axis":{"orient":"top","values":[10,12,14,16,18,20,22],"labels":false,"title":null,"tickSize":-5}},
    "y":{"field":"y","type":"quantitative","scale":{"domain":[10,23],"nice":false,"zero":false},"axis":{"orient":"right","values":[10,12,14,16,18,20,22],"labels":false,"title":null,"tickSize":-5}}}}
 ]
}
]
}
